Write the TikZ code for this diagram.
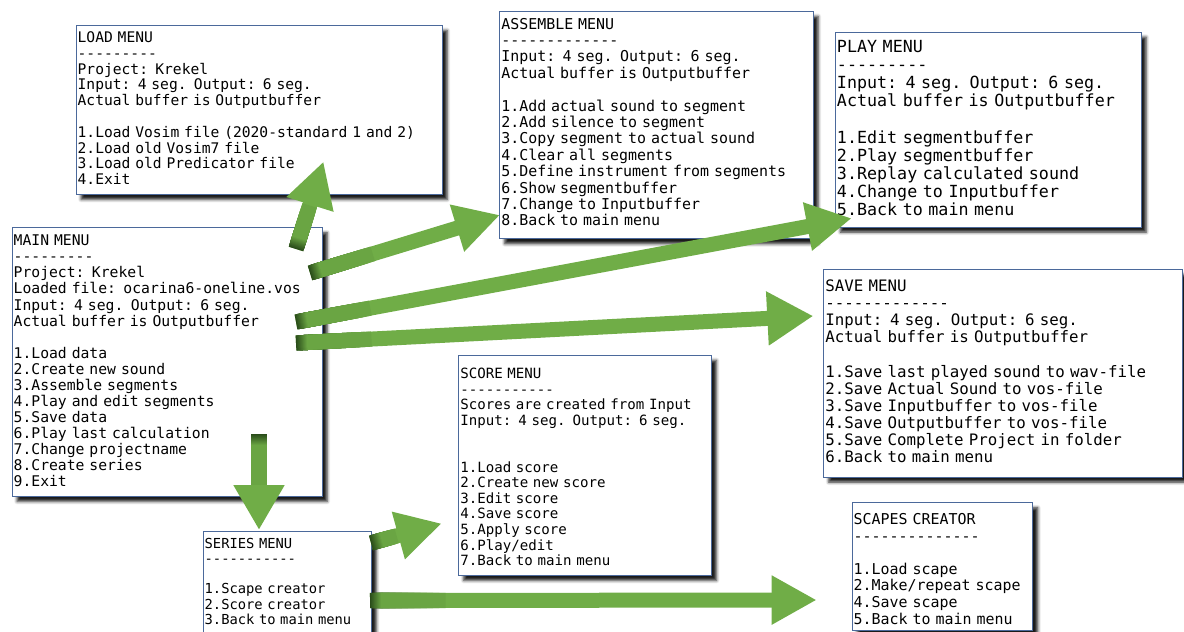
\documentclass[tikz,border=0pt]{standalone}
\usepackage{fontspec}
\setmonofont{DejaVu Sans Mono}
\usetikzlibrary{arrows.meta,calc,shadows.blur}
\definecolor{boxblue}{RGB}{75,105,155}
\definecolor{ltgreen}{RGB}{112,173,71}
\definecolor{dkgreen}{RGB}{42,76,26}
\newcommand{\boxfont}[2]{\fontsize{#1}{#2}\selectfont\ttfamily}

\begin{document}
\begin{tikzpicture}[x=1pt, y=-1pt,
		menu/.style={draw=boxblue, line width=0.9pt, fill=white, anchor=north west, align=left,
			inner xsep=1.5pt, inner ysep=0pt,
			blur shadow={shadow xshift=5pt, shadow yshift=-5pt, shadow blur radius=3pt, shadow opacity=90}},
		flow/.style={draw=ltgreen, line width=15pt, -{Triangle[length=45pt, width=46pt]}},
		fade/.style={line width=15.2pt},
	]
	\useasboundingbox (0,0) rectangle (1184,632);
	\clip (0,0) rectangle (1184,632);

	\node[menu, font=\boxfont{14.62}{15.8}, text width=363pt, text height=17pt, text depth=152pt] (load) at (75.7, 25)
		{LOAD MENU\\---------\\Project: Krekel\\Input: 4 seg. Output: 6 seg.\\Actual buffer is Outputbuffer\\~\\1.Load Vosim file (2020-standard 1 and 2)\\2.Load old Vosim7 file\\3.Load old Predicator file\\4.Exit};
	\node[menu, font=\boxfont{14.73}{16.07}, text width=307pt, text height=18pt, text depth=250.7pt] (main) at (11.7, 227.3)
		{MAIN MENU\\---------\\Project: Krekel\\Loaded file: ocarina6-oneline.vos\\Input: 4 seg. Output: 6 seg.\\Actual buffer is Outputbuffer\\~\\1.Load data\\2.Create new sound\\3.Assemble segments\\4.Play and edit segments\\5.Save data\\6.Play last calculation\\7.Change projectname\\8.Create series\\9.Exit};
	\node[menu, font=\boxfont{14.95}{16.4}, text width=310.4pt, text height=17.7pt, text depth=209.6pt] (assemble) at (499.3, 11)
		{ASSEMBLE MENU\\-------------\\Input: 4 seg. Output: 6 seg.\\Actual buffer is Outputbuffer\\~\\1.Add actual sound to segment\\2.Add silence to segment\\3.Copy segment to actual sound\\4.Clear all segments\\5.Define instrument from segments\\6.Show segmentbuffer\\7.Change to Inputbuffer\\8.Back to main menu};
	\node[menu, font=\boxfont{16.69}{18.2}, text width=302.7pt, text height=20pt, text depth=175pt] (play) at (835, 31.7)
		{PLAY MENU\\---------\\Input: 4 seg. Output: 6 seg.\\Actual buffer is Outputbuffer\\~\\1.Edit segmentbuffer\\2.Play segmentbuffer\\3.Replay calculated sound\\4.Change to Inputbuffer\\5.Back to main menu};
	\node[menu, font=\boxfont{15.78}{17.17}, text width=355.4pt, text height=21.7pt, text depth=186pt] (save) at (823.3, 269)
		{SAVE MENU\\-------------\\Input: 4 seg. Output: 6 seg.\\Actual buffer is Outputbuffer\\~\\1.Save last played sound to wav-file\\2.Save Actual Sound to vos-file\\3.Save Inputbuffer to vos-file\\4.Save Outputbuffer to vos-file\\5.Save Complete Project in folder\\6.Back to main menu};
	\node[menu, font=\boxfont{14.12}{15.56}, text width=249.7pt, text height=23.4pt, text depth=196.6pt] (score) at (458.3, 355)
		{SCORE MENU\\-----------\\Scores are created from Input\\Input: 4 seg. Output: 6 seg.\\~\\~\\1.Load score\\2.Create new score\\3.Edit score\\4.Save score\\5.Apply score\\6.Play/edit\\7.Back to main menu};
	\node[menu, font=\boxfont{13.79}{15.27}, text width=165.3pt, text height=16.7pt, text depth=95pt] (series) at (202.7, 531)
		{SERIES MENU\\-----------\\~\\1.Scape creator\\2.Score creator\\3.Back to main menu};
	\node[menu, font=\boxfont{14.95}{16.55}, text width=177.6pt, text height=22pt, text depth=105.6pt] (scapes) at (851.7, 502.3)
		{SCAPES CREATOR\\--------------\\~\\1.Load scape\\2.Make/repeat scape\\4.Save scape\\5.Back to main menu};

	% arrow ends
	\coordinate (a1) at (296, 249);   \coordinate (b1) at (323.5, 161.5);
	\coordinate (a2) at (310, 273);   \coordinate (b2) at (500, 215);
	\coordinate (a3) at (296, 322);   \coordinate (b3) at (851.7, 218.3);
	\coordinate (a4) at (296, 343);   \coordinate (b4) at (813.3, 316);
	\coordinate (a5) at (259, 434);   \coordinate (b5) at (259, 530);
	\coordinate (a6) at (371, 543);   \coordinate (b6) at (441.7, 523.5);
	\coordinate (a7) at (370, 600.5); \coordinate (b7) at (816.7, 600);

	\draw[flow] (a1) -- (b1);
	\draw[flow] (a2) -- (b2);
	\draw[flow] (a3) -- (b3);
	\draw[flow, -{Triangle[length=46pt, width=51pt]}] (a4) -- (b4);
	\draw[flow, -{Triangle[length=45pt, width=48pt]}] (a5) -- (b5);
	\draw[flow] (a6) -- (b6);
	\draw[flow] (a7) -- (b7);

	% dark tails
	\foreach \s/\t/\g in {a1/b1/45, a2/b2/65, a3/b3/75, a4/b4/75, a5/b5/50, a6/b6/26, a7/b7/75}
		\foreach \i [evaluate=\i as \da using \i*\g/12,
			evaluate=\i as \db using (\i+1)*\g/12+0.6,
			evaluate=\i as \k using int(100-100*\i/12)] in {0,...,11}
			\draw[fade, dkgreen!\k!ltgreen] ($(\s)!\da pt!(\t)$) -- ($(\s)!\db pt!(\t)$);
\end{tikzpicture}
\end{document}
